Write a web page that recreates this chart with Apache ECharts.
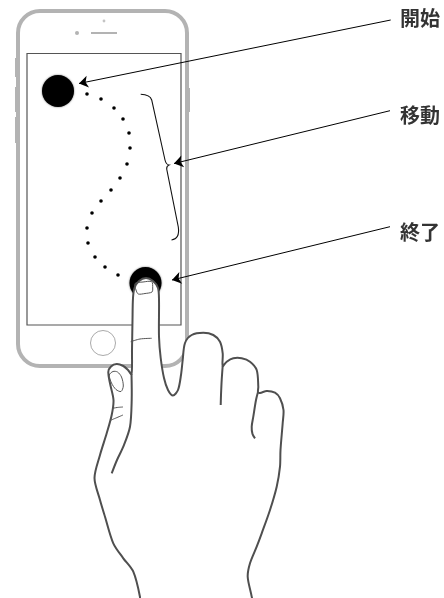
<!DOCTYPE html>
<html>
<head>
<meta charset="utf-8">
<script src="https://cdn.jsdelivr.net/npm/echarts@6/dist/echarts.min.js"></script>
<style>
html,body{margin:0;padding:0;background:#fff;}
#c{width:444px;height:598px;}
</style>
</head>
<body>
<div id="c"></div>
<script>
// ---- data ----
const labels = ['開始', '移動', '終了'];
const startPoint = [[58, 91]];
const endPoint = [[145.5, 283]];
const trailX = [87, 101, 114, 123, 129, 130, 127, 120, 111, 101, 92, 87, 88, 95, 105, 118];
const trailY = [94, 99, 108, 119, 133, 148, 164, 178, 190, 201, 213, 228, 243, 257, 267, 275];
const arrowFrom = [[390.7, 20], [390, 110.7], [390, 226.7]];
const arrowTo = [[79, 83.5], [174, 163.5], [172, 280]];

// ---- drawing geometry (illustration shapes) ----
const handOutline = [
  [140,606],[140,597],[133.3,571.7],[123.3,558.3],[113.3,543.3],[105,516.7],[100,500],[94.5,478],
  [100,455],[106.7,433.3],[111.7,415],[113.5,400],[110,383.3],[108.3,372],[111,366.5],[116.7,364],
  [123.3,366],[128,370],[131.5,374],[132,350],[132.5,320],[133,298],[134.5,288],[139,281],[146,278],
  [153,281],[158,288],[159,300],[159,336.7],[160.7,358],[164,378],[168,390],[173,395.5],[178,390],
  [181,375],[182.7,360],[185,343],[191.7,335],[203.3,332.7],[213.3,335],[220,341.7],[222.7,353.3],
  [222.7,366],[226.7,361.7],[233.3,358.3],[241.7,358.3],[250,361.7],[256.7,370],[258.3,386.7],
  [258,392],[260,393],[266.7,391],[275,392.7],[280,398.3],[283.5,410],[282.7,423],[280.5,450],
  [280,466.7],[276.7,486.7],[270,510],[261.7,533.3],[256.7,546.7],[250,563.3],[247.7,576.7],
  [251.7,596.7],[252.5,606]
];
const handLines = [
  [[131.5,374],[131.7,400],[130,426.7],[123.3,446.7],[117,460],[111.7,473.3]],
  [[222.7,366],[221.7,380],[221,395],[220.7,405]],
  [[258,392],[256,400],[253.3,416.7],[251.7,426.7],[252.5,434],[255,438.3]]
];
const handThin = [
  [[112,408.5],[117,407.5],[123,407]],
  [[110,420.5],[116,418],[123,415]],
  [[130.7,341.7],[140,339],[151.7,338.3]]
];
const thumbNail = [[109.3,375],[113,371.5],[117.5,372],[121.5,377],[123.3,386],[121,391.5],[116,389.5],[111.5,383]];
const indexNail = [[135,283.5],[143,282],[151.7,281.7],[152.7,288],[152,292],[145,293.5],[138.3,294],[136,290]];

const chart = echarts.init(document.getElementById('c'), null, {renderer: 'canvas'});

function mapPts(api, pts) { return pts.map(p => api.coord(p)); }

const option = {
  animation: false,
  backgroundColor: '#ffffff',
  grid: {left: 0, right: 0, top: 0, bottom: 0},
  xAxis: {type: 'value', min: 0, max: 444, show: false},
  yAxis: {type: 'value', min: 0, max: 598, inverse: true, show: false},
  series: [
    {
      // phone
      type: 'custom', z: 1, silent: true,
      data: [[0, 0]],
      renderItem: function (params, api) {
        const tl = api.coord([18, 11]), br = api.coord([187, 366]);
        const stl = api.coord([27, 53.5]), sbr = api.coord([181, 325]);
        const gray = '#b3b3b3';
        const ch = [
          {type: 'rect', shape: {x: tl[0], y: tl[1], width: br[0]-tl[0], height: br[1]-tl[1], r: 22},
           style: {fill: 'none', stroke: gray, lineWidth: 4}},
          {type: 'rect', shape: {x: stl[0], y: stl[1], width: sbr[0]-stl[0], height: sbr[1]-stl[1]},
           style: {fill: 'none', stroke: '#555', lineWidth: 1.2}},
        ];
        const segs = [
          [[91,33],[117,33],2],
          [[16.5,58],[16.5,77],3],[[16.5,87],[16.5,112],3],[[16.5,117],[16.5,143],3],
          [[188.5,88],[188.5,112],3]
        ];
        segs.forEach(s => {
          const a = api.coord(s[0]), b = api.coord(s[1]);
          ch.push({type: 'line', shape: {x1: a[0], y1: a[1], x2: b[0], y2: b[1]},
                   style: {stroke: gray, lineWidth: s[2]}});
        });
        const cam = api.coord([77, 33]), dot = api.coord([104, 21]), home = api.coord([103, 343]);
        ch.push({type: 'circle', shape: {cx: cam[0], cy: cam[1], r: 2}, style: {fill: gray}});
        ch.push({type: 'circle', shape: {cx: dot[0], cy: dot[1], r: 1.4}, style: {fill: '#c4c4c4'}});
        ch.push({type: 'circle', shape: {cx: home[0], cy: home[1], r: 12.5}, style: {fill: 'none', stroke: '#aaa', lineWidth: 1}});
        return {type: 'group', children: ch};
      }
    },
    {
      // brace
      type: 'custom', z: 2, silent: true,
      data: [[0, 0]],
      renderItem: function (params, api) {
        const P = p => api.coord(p).join(' ');
        const d = 'M' + P([140.7,94.3]) + ' Q' + P([150,94.5]) + ' ' + P([151.7,100]) +
                  ' L' + P([165,160]) + ' Q' + P([166,164.5]) + ' ' + P([169,165]) +
                  ' Q' + P([166.5,166]) + ' ' + P([166.7,169]) + ' L' + P([178.3,227]) +
                  ' Q' + P([180,239]) + ' ' + P([171.5,240]);
        return {type: 'path', shape: {pathData: d}, style: {fill: 'none', stroke: '#111', lineWidth: 1.1}};
      }
    },
    {
      type: 'scatter', z: 3, silent: true,
      symbolSize: 3.6,
      itemStyle: {color: '#000', opacity: 1},
      data: trailX.map((x, i) => [x, trailY[i]])
    },
    {
      type: 'scatter', z: 3, silent: true,
      symbolSize: 32,
      itemStyle: {color: '#000', opacity: 1, shadowBlur: 2, shadowColor: 'rgba(0,0,0,0.6)'},
      data: startPoint.concat(endPoint)
    },
    {
      // hand
      type: 'custom', z: 5, silent: true,
      data: [[0, 0]],
      renderItem: function (params, api) {
        const stroke = '#4f4f4f';
        const ch = [{type: 'polygon', shape: {points: mapPts(api, handOutline), smooth: 0.3},
                     style: {fill: '#fff', stroke: stroke, lineWidth: 2}}];
        handLines.forEach(l => ch.push({type: 'polyline', shape: {points: mapPts(api, l), smooth: 0.3},
                     style: {fill: 'none', stroke: stroke, lineWidth: 2}}));
        handThin.forEach(l => ch.push({type: 'polyline', shape: {points: mapPts(api, l), smooth: 0.3},
                     style: {fill: 'none', stroke: '#555', lineWidth: 1}}));
        ch.push({type: 'polygon', shape: {points: mapPts(api, thumbNail), smooth: 0.3},
                 style: {fill: 'none', stroke: '#555', lineWidth: 1}});
        ch.push({type: 'polygon', shape: {points: mapPts(api, indexNail), smooth: 0.3},
                 style: {fill: 'none', stroke: '#555', lineWidth: 1}});
        return {type: 'group', children: ch};
      }
    },
    {
      type: 'lines', coordinateSystem: 'cartesian2d', z: 6, silent: true,
      symbol: ['none', 'arrow'], symbolSize: 9,
      lineStyle: {color: '#000', width: 1, opacity: 1},
      data: arrowFrom.map((f, i) => ({coords: [f, arrowTo[i]]}))
    },
    {
      type: 'scatter', z: 7, silent: true,
      symbolSize: 0,
      data: arrowFrom.map((f, i) => ({value: [400, [18.5, 115, 232][i]], name: labels[i]})),
      label: {
        show: true, position: 'right', distance: 0, formatter: '{b}',
        color: '#000', fontSize: 20, fontWeight: 'bold',
        fontFamily: '"Noto Sans CJK JP", "Noto Sans", sans-serif'
      }
    }
  ]
};
chart.setOption(option);
</script>
</body>
</html>
